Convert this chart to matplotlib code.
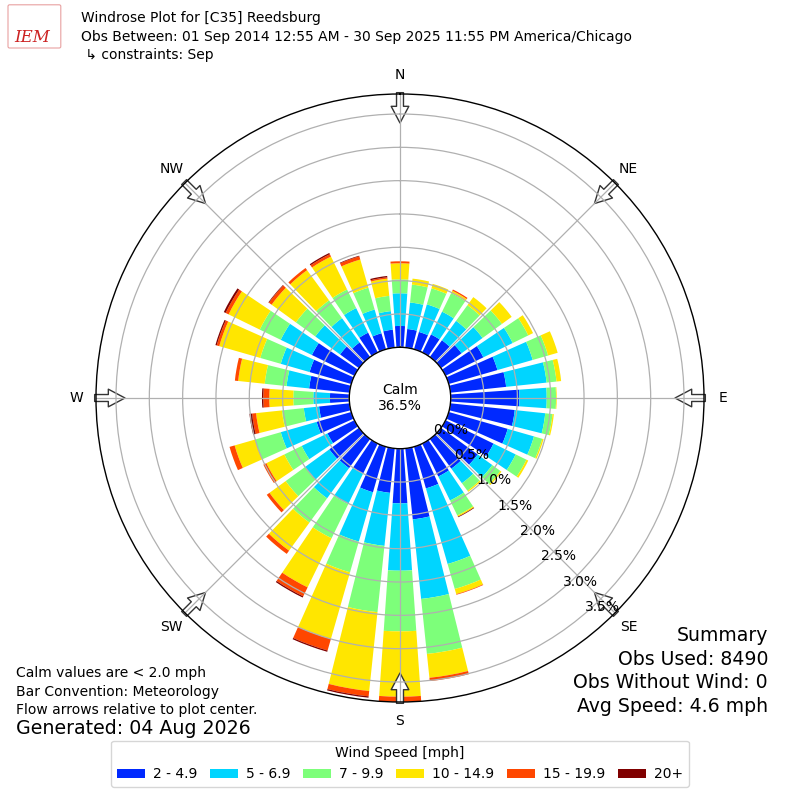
import numpy as np
import matplotlib
matplotlib.use("Agg")
import matplotlib.pyplot as plt
from matplotlib.patches import FancyBboxPatch

# wind direction bins (deg, met. convention) and speed classes
directions = np.arange(0, 360, 10)
speed_labels = ["2 - 4.9", "5 - 6.9", "7 - 9.9", "10 - 14.9", "15 - 19.9", "20+"]

# percent of observations, one list per speed class, 0..350 deg
spd_2_5 = [0.32, 0.28, 0.27, 0.30, 0.31, 0.38, 0.63, 0.76, 0.84, 1.03,
           0.97, 0.92, 0.80, 0.68, 0.55, 0.55, 0.65, 1.07, 0.82, 0.67,
           0.71, 0.50, 0.54, 0.55, 0.45, 0.54, 0.46, 0.29, 0.61, 0.65,
           0.71, 0.35, 0.27, 0.33, 0.25, 0.27]
spd_5_7 = [0.49, 0.40, 0.43, 0.38, 0.36, 0.39, 0.49, 0.55, 0.61, 0.41,
           0.46, 0.41, 0.37, 0.27, 0.27, 0.40, 1.18, 1.20, 1.01, 0.80,
           0.77, 0.51, 0.56, 0.45, 0.43, 0.56, 0.23, 0.25, 0.34, 0.45,
           0.52, 0.46, 0.45, 0.41, 0.37, 0.28]
spd_7_10 = [0.21, 0.27, 0.25, 0.31, 0.29, 0.36, 0.26, 0.24, 0.15, 0.14,
            0.11, 0.13, 0.18, 0.15, 0.14, 0.25, 0.39, 0.83, 0.91, 1.00,
            0.48, 0.57, 0.45, 0.36, 0.29, 0.40, 0.33, 0.30, 0.33, 0.32,
            0.35, 0.36, 0.33, 0.31, 0.34, 0.23]
spd_10_15 = [0.24, 0.09, 0.07, 0.04, 0.15, 0.18, 0.08, 0.15, 0.07, 0.01,
             0.02, 0.02, 0.03, 0.02, 0.02, 0.02, 0.08, 0.36, 0.98, 1.19,
             1.04, 0.82, 0.52, 0.30, 0.30, 0.32, 0.39, 0.36, 0.40, 0.64,
             0.52, 0.45, 0.56, 0.55, 0.44, 0.26]
spd_15_20 = [0.03, 0.00, 0.00, 0.02, 0.00, 0.00, 0.00, 0.00, 0.00, 0.00,
             0.00, 0.00, 0.00, 0.00, 0.00, 0.00, 0.01, 0.05, 0.08, 0.08,
             0.18, 0.15, 0.06, 0.05, 0.05, 0.08, 0.06, 0.09, 0.05, 0.04,
             0.05, 0.05, 0.04, 0.04, 0.05, 0.02]
spd_20 = [0.00, 0.00, 0.00, 0.00, 0.00, 0.00, 0.00, 0.00, 0.00, 0.00,
          0.00, 0.00, 0.00, 0.00, 0.00, 0.01, 0.00, 0.00, 0.00, 0.02,
          0.02, 0.02, 0.00, 0.00, 0.00, 0.00, 0.04, 0.02, 0.00, 0.02,
          0.03, 0.01, 0.00, 0.02, 0.01, 0.02]
speed_bins = [spd_2_5, spd_5_7, spd_7_10, spd_10_15, spd_15_20, spd_20]

calm_pct = 36.5
obs_used = 8490
obs_no_wind = 0
avg_speed = 4.6
rticks = [0.0, 0.5, 1.0, 1.5, 2.0, 2.5, 3.0, 3.5]
compass = ["N", "NE", "E", "SE", "S", "SW", "W", "NW"]

colors = plt.cm.jet(np.linspace(0, 1, 7))[1:]

fig = plt.figure(figsize=(8, 8), dpi=100)
cx, cy, rad = 0.5, 0.5025, 0.38
ax = fig.add_axes([cx - rad, cy - rad, 2 * rad, 2 * rad], projection="polar")
ax.set_theta_zero_location("N")
ax.set_theta_direction(-1)
ax.set_ylim(0, 3.8)
ax.set_rorigin(-0.761)

theta = np.radians(directions)
bottom = np.zeros(len(directions))
for vals, col, lab in zip(speed_bins, colors, speed_labels):
    ax.bar(theta, vals, width=np.radians(8), bottom=bottom, color=col,
           label=lab, linewidth=0, zorder=1)
    bottom += np.array(vals)

ax.set_thetagrids(range(0, 360, 45), labels=[""] * 8)
ax.set_rticks(rticks)
ax.set_yticklabels([f"{v:.1f}%" for v in rticks], fontsize=10)
ax.set_rlabel_position(139.5)
ax.grid(color="#b0b0b0", linewidth=0.9)
for sp in ax.spines.values():
    sp.set_color("black")
    sp.set_linewidth(1.0)

# flow arrows pointing at plot center
for i in range(8):
    t = np.radians(45 * i)
    ax.annotate("", xy=(t, 3.365), xytext=(t, 3.82),
                arrowprops=dict(arrowstyle="simple,head_width=1.27,head_length=1.2,tail_width=0.5",
                                fc="white", ec="#333333", lw=1, shrinkA=0, shrinkB=0),
                annotation_clip=False, zorder=1.2)
    fig.text(cx + 0.404 * np.sin(t), cy + 0.404 * np.cos(t), compass[i],
             ha="center", va="center", fontsize=10)

fig.text(cx, cy, f"Calm\n{calm_pct:.1f}%", ha="center", va="center", fontsize=10)

# header
fig.text(0.101, 0.9775, "Windrose Plot for [C35] Reedsburg", fontsize=10, va="center")
fig.text(0.101, 0.954, "Obs Between: 01 Sep 2014 12:55 AM - 30 Sep 2025 11:55 PM America/Chicago",
         fontsize=10, va="center")
fig.text(0.101, 0.931, " \u21b3 constraints: Sep", fontsize=10, va="center")
fig.patches.append(FancyBboxPatch((0.012, 0.942), 0.062, 0.05, boxstyle="round,pad=0.002",
                                  transform=fig.transFigure, fc="none", ec="#e8a0a0", lw=0.8))
fig.text(0.04, 0.953, "IEM", color="#cc2222", fontsize=12, style="italic",
         family="DejaVu Serif", ha="center", va="center")

# footer notes
fig.text(0.02, 0.159, "Calm values are < 2.0 mph", fontsize=10, va="center")
fig.text(0.02, 0.135, "Bar Convention: Meteorology", fontsize=10, va="center")
fig.text(0.02, 0.1125, "Flow arrows relative to plot center.", fontsize=10, va="center")
fig.text(0.02, 0.089, "Generated: 04 Aug 2026", fontsize=13.7, va="center")

fig.text(0.96, 0.206, "Summary", fontsize=13.6, ha="right", va="center")
fig.text(0.96, 0.176, f"Obs Used: {obs_used}", fontsize=13.6, ha="right", va="center")
fig.text(0.96, 0.1475, f"Obs Without Wind: {obs_no_wind}", fontsize=13.6, ha="right", va="center")
fig.text(0.96, 0.1175, f"Avg Speed: {avg_speed} mph", fontsize=13.6, ha="right", va="center")

handles, labels = ax.get_legend_handles_labels()
fig.legend(handles, labels, loc="lower center", bbox_to_anchor=(0.5, 0.008), ncol=6,
           title="Wind Speed [mph]", fontsize=10, title_fontsize=10, columnspacing=0.9,
           handletextpad=0.6, handleheight=0.6)

fig.savefig("out.png", dpi=100)
